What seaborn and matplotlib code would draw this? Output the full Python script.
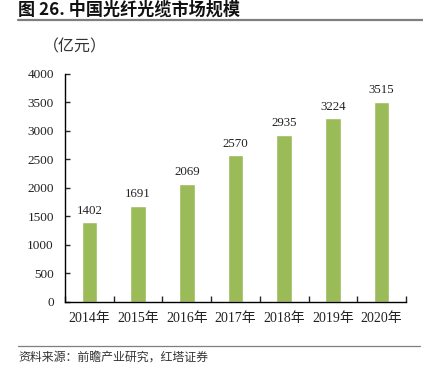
#!/usr/bin/python
#-*- encoding:utf-8 -*-
import matplotlib
matplotlib.use('Agg')
import matplotlib.pyplot as plt
import seaborn as sns
import numpy as np
import pandas as pd

# data
years = ["2014年", "2015年", "2016年", "2017年", "2018年", "2019年", "2020年"]
market_size = [1402, 1691, 2069, 2570, 2935, 3224, 3515]
y_ticks = [0, 500, 1000, 1500, 2000, 2500, 3000, 3500, 4000]

title = "图 26. 中国光纤光缆市场规模"
unit = "（亿元）"
source = "资料来源：前瞻产业研究，红塔证券"

sns.set_style("white")
plt.rcParams['font.family'] = ['Liberation Serif', 'Noto Sans CJK SC']
plt.rcParams['axes.unicode_minus'] = False

df = pd.DataFrame({"year": years, "value": market_size})

fig = plt.figure(figsize=(4.23, 3.80), dpi=100)
ax = fig.add_axes([0.1537, 0.2053, 0.806, 0.600])
sns.barplot(data=df, x="year", y="value", color="#9BBB59", saturation=1,
            width=0.32, ax=ax)

for c in ax.containers:
    ax.bar_label(c, fmt="%d", padding=4, fontsize=9.3, color="#222222")

ax.set_ylim(0, 4000)
ax.set_yticks(y_ticks)
ax.set_xlim(-0.5, len(years) - 0.5)
ax.set_xlabel("")
ax.set_ylabel("")
sns.despine(ax=ax)
for s in ["left", "bottom"]:
    ax.spines[s].set_color("black")
    ax.spines[s].set_linewidth(1.0)

ax.tick_params(axis="y", direction="in", length=3.5, width=1, labelsize=9.5,
               left=True, pad=8, labelcolor="#222222")
ax.tick_params(axis="x", which="major", length=0, labelsize=10, pad=7,
               labelcolor="#222222")
ax.set_xticks(np.arange(-0.5, len(years), 1.0), minor=True)
ax.tick_params(axis="x", which="minor", direction="in", length=4, width=1,
               bottom=True)

# header / footer
fig.text(18 / 423, 1 - 10 / 380, title, fontsize=12.3, fontweight="bold",
         family=["Noto Sans CJK SC", "DejaVu Sans"], va="center", ha="left",
         color="#111111")
fig.add_artist(plt.Line2D([18 / 423, 1.0], [1 - 20 / 380] * 2,
                          color="#7f7f7f", linewidth=1.6))
fig.text(43 / 423, 1 - 47 / 380, unit, fontsize=11.5,
         family=["Noto Sans CJK SC"], va="center", ha="left", color="#333333")
fig.add_artist(plt.Line2D([18 / 423, 420 / 423], [1 - 346 / 380] * 2,
                          color="#7f7f7f", linewidth=0.9))
fig.text(18 / 423, 1 - 358 / 380, source, fontsize=8.6,
         family=["Noto Sans CJK SC"], va="center", ha="left", color="#333333")

plt.savefig("out.png", dpi=100)
plt.close()
